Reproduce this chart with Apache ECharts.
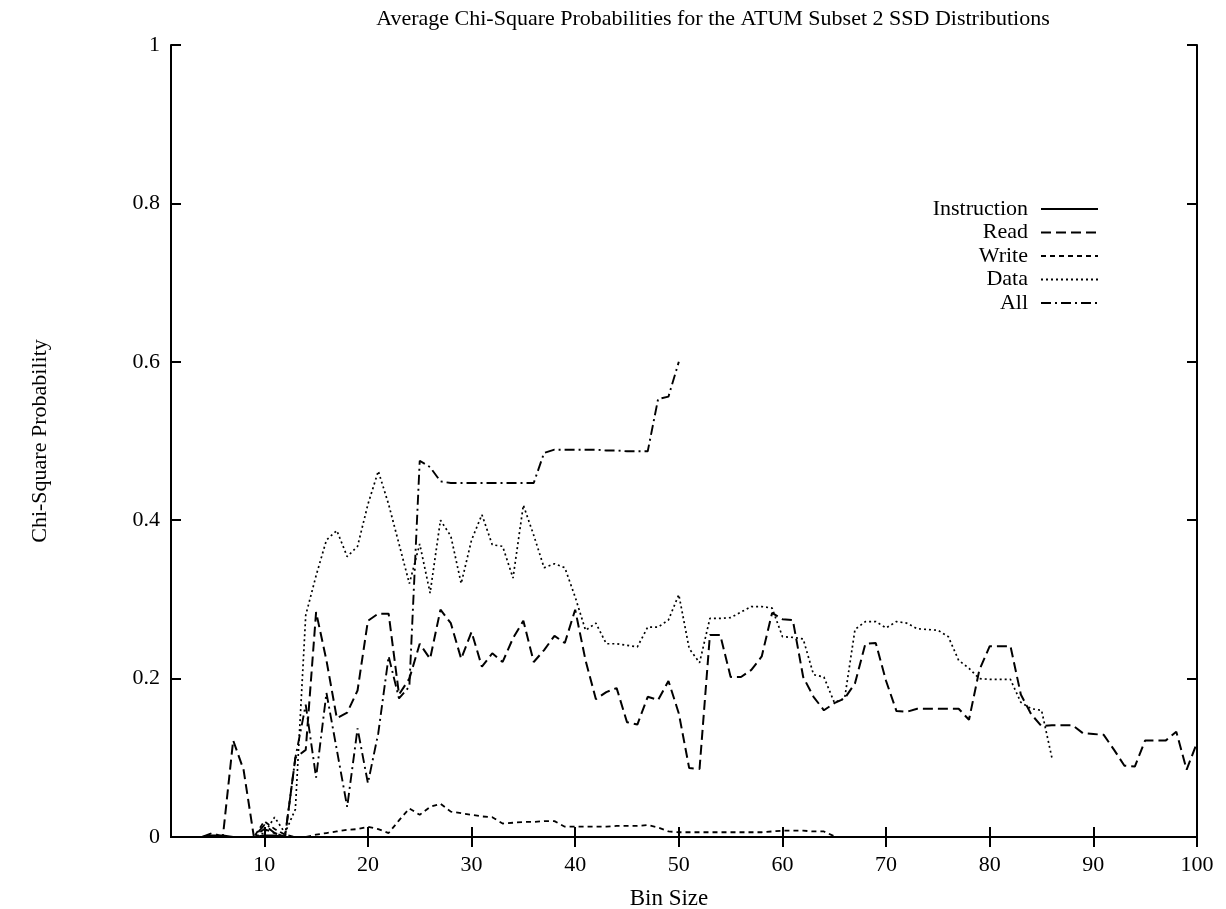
<!DOCTYPE html>
<html>
<head>
<meta charset="utf-8">
<script src="https://cdn.jsdelivr.net/npm/echarts@6/dist/echarts.min.js"></script>
<style>
html,body{margin:0;padding:0;background:#fff;}
#chart{width:1226px;height:909px;}
</style>
</head>
<body>
<div id="chart"></div>
<script>
// Bin sizes (x values), starting at bin 4
var bins = [4,5,6,7,8,9,10,11,12,13,14,15,16,17,18,19,20,21,22,23,24,25,26,27,28,29,30,31,32,33,34,35,36,37,38,39,40,41,42,43,44,45,46,47,48,49,50,51,52,53,54,55,56,57,58,59,60,61,62,63,64,65,66,67,68,69,70,71,72,73,74,75,76,77,78,79,80,81,82,83,84,85,86,87,88,89,90,91,92,93,94,95,96,97,98,99,100];

// Instruction (bins 4..100)
var instruction = [0,0.002,0.002,0,0,0,0.002,0.002,0,0,0,0,0,0,0,0,0,0,0,0,0,0,0,0,0,0,0,0,0,0,0,0,0,0,0,0,0,0,0,0,0,0,0,0,0,0,0,0,0,0,0,0,0,0,0,0,0,0,0,0,0,0,0,0,0,0,0,0,0,0,0,0,0,0,0,0,0,0,0,0,0,0,0,0,0,0,0,0,0,0,0,0,0,0,0,0,0];

// Read (bins 4..100)
var read = [0,0.005,0,0.122,0.085,0,0.015,0.005,0,0.1,0.11,0.284,0.223,0.15,0.157,0.185,0.273,0.282,0.282,0.18,0.2,0.244,0.225,0.287,0.27,0.225,0.259,0.215,0.232,0.221,0.251,0.273,0.221,0.236,0.254,0.245,0.287,0.223,0.174,0.183,0.188,0.145,0.142,0.177,0.173,0.197,0.156,0.087,0.086,0.255,0.255,0.202,0.202,0.211,0.228,0.283,0.275,0.274,0.202,0.177,0.16,0.169,0.175,0.194,0.244,0.245,0.197,0.159,0.158,0.162,0.162,0.162,0.162,0.162,0.148,0.211,0.241,0.241,0.241,0.18,0.155,0.14,0.141,0.141,0.141,0.131,0.13,0.129,0.11,0.09,0.089,0.122,0.122,0.122,0.133,0.085,0.119];

// Write (bins 4..65)
var write = [0,0,0,0,0,0,0.02,0.01,0.003,0,0,0.003,0.005,0.007,0.009,0.01,0.013,0.01,0.005,0.021,0.036,0.028,0.038,0.042,0.032,0.03,0.028,0.026,0.025,0.017,0.018,0.019,0.019,0.02,0.02,0.013,0.013,0.013,0.013,0.013,0.014,0.014,0.014,0.015,0.012,0.007,0.006,0.006,0.006,0.006,0.006,0.006,0.006,0.006,0.006,0.007,0.008,0.008,0.008,0.007,0.007,0.001];

// Data (bins 4..86)
var dataSeries = [0,0,0,0,0,0,0.005,0.025,0.005,0.035,0.28,0.33,0.375,0.387,0.354,0.367,0.42,0.462,0.42,0.37,0.32,0.37,0.308,0.4,0.38,0.32,0.375,0.407,0.369,0.367,0.327,0.419,0.381,0.34,0.345,0.34,0.303,0.261,0.27,0.244,0.244,0.242,0.24,0.265,0.265,0.274,0.306,0.238,0.22,0.276,0.276,0.277,0.284,0.291,0.291,0.289,0.253,0.252,0.25,0.205,0.202,0.17,0.175,0.262,0.272,0.272,0.264,0.272,0.27,0.263,0.262,0.261,0.253,0.223,0.213,0.2,0.199,0.199,0.199,0.17,0.162,0.16,0.1];

// All (bins 4..50)
var all = [0,0,0,0,0,0,0.01,0.005,0,0.1,0.167,0.075,0.182,0.11,0.038,0.137,0.068,0.131,0.228,0.175,0.19,0.475,0.467,0.449,0.447,0.447,0.447,0.447,0.447,0.447,0.447,0.447,0.447,0.485,0.489,0.489,0.489,0.489,0.489,0.488,0.488,0.487,0.487,0.487,0.553,0.556,0.6];

var xTicks = [10,20,30,40,50,60,70,80,90,100];
var yTicks = [0,0.2,0.4,0.6,0.8,1];
var seriesNames = ['Instruction','Read','Write','Data','All'];

function pairs(vals){
  var out = [];
  for (var i = 0; i < vals.length; i++) out.push([bins[i], vals[i]]);
  return out;
}

var FONT = '"Liberation Serif","DejaVu Serif",serif';
var chart = echarts.init(document.getElementById('chart'), null, {renderer:'canvas'});

var styles = [
  {type:'solid', width:1.8},
  {type:[10,5], width:2},
  {type:[5,4], width:1.8},
  {type:[2,3], width:1.7},
  {type:[10,4,2,4], width:1.9}
];
var vals = [instruction, read, write, dataSeries, all];

var series = seriesNames.map(function(n, k){
  return {
    name:n, type:'line', data:pairs(vals[k]), symbol:'none', showSymbol:false,
    lineStyle:{color:'#000', width:styles[k].width, type:styles[k].type},
    itemStyle:{color:'#000'},
    animation:false, z: 3
  };
});

function xAx(pos, labels){
  return {
    type:'value', position:pos, min:1, max:100,
    axisLine:{show:true, lineStyle:{color:'#000', width:2}},
    axisTick:{show:true, inside:true, length:10, customValues:xTicks, lineStyle:{color:'#000', width:2}},
    axisLabel:{show:labels, customValues:xTicks, margin:17, color:'#000', fontFamily:FONT, fontSize:22},
    splitLine:{show:false}
  };
}
function yAx(pos, labels){
  return {
    type:'value', position:pos, min:0, max:1, interval:0.2,
    axisLine:{show:true, lineStyle:{color:'#000', width:2}},
    axisTick:{show:true, inside:true, length:10, lineStyle:{color:'#000', width:2}},
    axisLabel:{show:labels, margin:11, color:'#000', fontFamily:FONT, fontSize:22,
      formatter:function(v){ return String(Math.round(v*10)/10); }},
    splitLine:{show:false},
    name: labels ? 'Chi-Square Probability' : '',
    nameLocation:'middle', nameRotate:90, nameGap:120,
    nameTextStyle:{color:'#000', fontFamily:FONT, fontSize:22}
  };
}

chart.setOption({
  backgroundColor:'#fff',
  animation:false,
  title:[
    {text:'Average Chi-Square Probabilities for the ATUM Subset 2 SSD Distributions',
     left:708, top:3, textAlign:'center',
     textStyle:{color:'#000', fontFamily:FONT, fontSize:22, fontWeight:'normal'}},
    {text:'Bin Size', left:664, top:882, textAlign:'center',
     textStyle:{color:'#000', fontFamily:FONT, fontSize:23, fontWeight:'normal'}}
  ],
  grid:{left:171, right:29, top:45, bottom:72, containLabel:false},
  legend:{
    data:seriesNames, orient:'vertical', align:'right', right:122, top:193,
    itemWidth:57, itemHeight:12, itemGap:1.5,
    itemStyle:{opacity:0, color:'rgba(0,0,0,0)', borderWidth:0},
    lineStyle:{inactiveColor:'#000'},
    textStyle:{color:'#000', fontFamily:FONT, fontSize:22, padding:[0,8,0,0]},
    selectedMode:false
  },
  xAxis:[xAx('bottom', true), xAx('top', false)],
  yAxis:[yAx('left', true), yAx('right', false)],
  series:series
});
</script>
</body>
</html>
